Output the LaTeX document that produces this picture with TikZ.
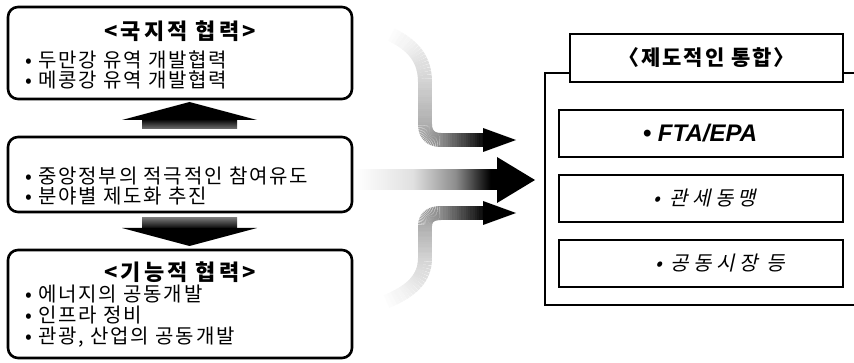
\documentclass[tikz,border=0pt]{standalone}
\usepackage{fontspec}
\newfontfamily\kr[LetterSpace=9]{Noto Sans CJK KR}
\newfontfamily\krtitle[LetterSpace=14]{Noto Sans CJK KR}
\newfontfamily\krslant[FakeSlant=0.22, LetterSpace=22]{Noto Sans CJK KR}
\newfontfamily\latinbi{Liberation Sans}

% white on the far end, darkening towards the arrow head
\pgfdeclarehorizontalshading{shaftfade}{100bp}{color(0bp)=(white); color(25bp)=(white); color(45bp)=(black!12); color(60bp)=(black!45); color(72bp)=(black); color(100bp)=(black)}

% one piece of a thick faded stroke: a curve cut into short strokes whose
% grey level (percent of black) runs from #5 to #6
\newcommand\fadepiece[6]{%
  \foreach \k in {1,...,20}{%
    \pgfmathsetmacro\ta{(\k-1)/20}%
    \pgfmathsetmacro\tb{\k/20}%
    \pgfmathtruncatemacro\fpct{#5+(#6-#5)*(\k-0.5)/20}%
    \path #1 .. controls #2 and #3 .. #4 coordinate[pos=\ta] (fa) coordinate[pos=\tb] (fb);
    \colorlet{piececol}{black!\fpct}%
    \draw[shaftline, draw=piececol] (fa) -- (fb);
  }}

\tikzset{
  roundbox/.style={draw=black, line width=2.6pt, rounded corners=10pt, fill=white},
  squarebox/.style={draw=black, line width=2.6pt, fill=white},
  item/.style={anchor=west, inner sep=0pt, font=\kr\fontsize{20}{22}\selectfont},
  boxtitle/.style={inner sep=0pt, font=\krtitle\bfseries\fontsize{22}{24}\selectfont},
  headfill/.style={fill=black},
  shaftline/.style={line width=14pt, line cap=butt},
}

\begin{document}
\begin{tikzpicture}[x=1pt, y=-1pt]
\useasboundingbox (0,0) rectangle (854,363);

% ---------- left column ----------
\draw[roundbox] (8,7) rectangle (352,99);
\node[boxtitle] (loctitle) at (180,31) {<국지적 협력>};
\node[item] (loc1) at (25,60) {• 두만강 유역 개발협력};
\node[item] (loc2) at (25,80) {• 메콩강 유역 개발협력};

\draw[roundbox] (8,137) rectangle (352,212);
\node[item] (gov1) at (25,176) {• 중앙정부의 적극적인 참여유도};
\node[item] (gov2) at (25,196) {• 분야별 제도화 추진};

\draw[roundbox] (8,250) rectangle (352,358);
\node[boxtitle] (funtitle) at (180,272) {<기능적 협력>};
\node[item] (fun1) at (25,294) {• 에너지의 공동개발};
\node[item] (fun2) at (25,315) {• 인프라 정비};
\node[item] (fun3) at (25,337) {• 관광, 산업의 공동개발};

% up arrow between the middle and the top box
\shade[top color=black, bottom color=black!55] (142,119) rectangle (237,129);
\fill[headfill] (122,120) -- (189.5,102) -- (257,120) -- cycle;
% down arrow between the middle and the bottom box
\shade[top color=black!55, bottom color=black] (142,218) rectangle (237,229);
\fill[headfill] (122,228) -- (257,228) -- (189.5,246) -- cycle;

% ---------- arrows towards the right ----------
% upper bent arrow
\fadepiece{(388,33)}{(412,44)}{(425,58)}{(425,82)}{0}{18}
\fadepiece{(425,82)}{(425,96)}{(425,110)}{(425,124)}{18}{32}
\fadepiece{(425,124)}{(425,134)}{(430,140)}{(441,140)}{32}{45}
\fadepiece{(441,140)}{(456,140)}{(471,140)}{(486,140)}{45}{100}
\fill[headfill] (483,128) -- (516,140) -- (483,152) -- cycle;

% straight middle arrow
\shade[shading=shaftfade] (355,170) rectangle (499,190);
\fill[headfill] (497,157) -- (535,180) -- (497,203) -- cycle;

% lower bent arrow
\fadepiece{(383,303)}{(408,293)}{(425,281)}{(425,258)}{0}{18}
\fadepiece{(425,258)}{(425,247)}{(425,237)}{(425,226)}{18}{32}
\fadepiece{(425,226)}{(425,218)}{(430,213)}{(441,213)}{32}{45}
\fadepiece{(441,213)}{(456,213)}{(471,213)}{(486,213)}{45}{100}
\fill[headfill] (483,201) -- (516,213) -- (483,225) -- cycle;

% ---------- right panel ----------
\draw[line width=2.6pt] (856,73) -- (545,73) -- (545,305) -- (856,305);
\node[squarebox, minimum width=273pt, minimum height=48pt, inner sep=0pt,
      font=\kr\bfseries\fontsize{21}{23}\selectfont] (insttitle) at (706.5,58) {〈제도적인 통합〉};
\node[squarebox, minimum width=284pt, minimum height=47pt, inner sep=0pt] (fta) at (701,133.5) {};
\node[squarebox, minimum width=284pt, minimum height=47pt, inner sep=0pt] (cu) at (701,198.5) {};
\node[squarebox, minimum width=284pt, minimum height=47pt, inner sep=0pt] (cm) at (701,263.5) {};
\node[inner sep=0pt, font=\latinbi\bfseries\itshape\fontsize{24}{26}\selectfont] (ftatext) at (700,133) {• FTA/EPA};
\node[inner sep=0pt, font=\krslant\fontsize{20}{22}\selectfont] (cutext) at (705,198) {• 관세동맹};
\node[inner sep=0pt, font=\krslant\fontsize{20}{22}\selectfont] (cmtext) at (720,263) {• 공동시장 등};
\end{tikzpicture}
\end{document}
